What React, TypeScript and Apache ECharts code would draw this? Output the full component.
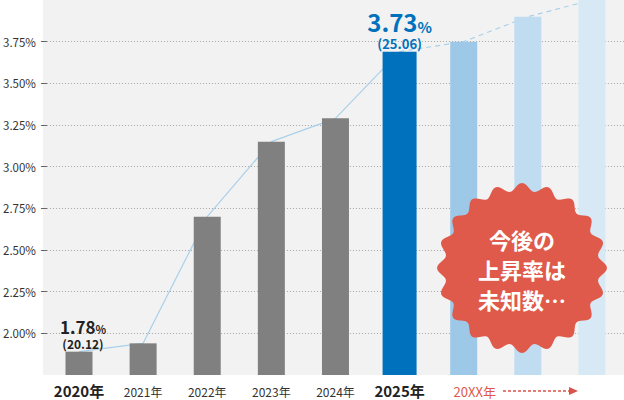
import { useEffect, useRef } from "react";
import * as echarts from "echarts";

// categories on the x axis (the last three are the unknown future years)
const categories = ["2020年", "2021年", "2022年", "2023年", "2024年", "2025年", "20XX年①", "20XX年②", "20XX年③"];
const xTickLabels = ["2020年", "2021年", "2022年", "2023年", "2024年", "2025年", "20XX年", "", ""];
const highlightYears = ["2020年", "2025年"];

// bar heights (y axis in %)
const pastValues = [1.89, 1.94, 2.7, 3.15, 3.29];
const currentValue = 3.69;
const futureValues = [3.75, 3.9, 4.0];

// annotated values
const labelRates = ["1.78", "3.73"];
const labelRatios = ["(20.12)", "(25.06)"];

const yTicks = [2.0, 2.25, 2.5, 2.75, 3.0, 3.25, 3.5, 3.75];
const badgeText = "今後の\n上昇率は\n未知数…";

const FONT = '"Noto Sans CJK JP", "Noto Sans", sans-serif';

function badgePoints(cx: number, cy: number, r: number, amp: number, bumps: number) {
  const pts: number[][] = [];
  const n = 240;
  for (let i = 0; i < n; i++) {
    const t = (i / n) * Math.PI * 2;
    const rr = r + amp * Math.cos(bumps * t);
    pts.push([cx + rr * Math.cos(t), cy + rr * Math.sin(t)]);
  }
  return pts;
}

export default function App() {
  const ref = useRef<HTMLDivElement | null>(null);

  useEffect(() => {
    if (!ref.current) return;
    const chart = echarts.init(ref.current, undefined, { renderer: "svg" });

    const pastCount = pastValues.length;
    const futureColors = ["#9dc8e8", "#bfdcf0", "#d8e9f6"];

    const barData: any[] = categories.map((_, i) => {
      if (i < pastCount) {
        const item: any = { value: pastValues[i], itemStyle: { color: "#808080" } };
        if (i === 0) {
          item.label = {
            show: true,
            position: "top",
            distance: 3,
            offset: [4, 0],
            formatter: `{v|${labelRates[0]}}{p|%}\n{s|${labelRatios[0]}}`,
            rich: {
              v: { fontSize: 17, fontWeight: "bold", color: "#222", fontFamily: FONT, lineHeight: 19, verticalAlign: "bottom" },
              p: { fontSize: 11, fontWeight: "bold", color: "#222", fontFamily: FONT, lineHeight: 19, verticalAlign: "bottom" },
              s: { fontSize: 12, fontWeight: "bold", color: "#222", fontFamily: FONT, lineHeight: 14, padding: [4, 0, 0, 0] }
            }
          };
        }
        return item;
      }
      if (i === pastCount) return "-";
      const k = i - pastCount - 1;
      return { value: futureValues[k], itemStyle: { color: futureColors[k] } };
    });

    const currentData: any[] = categories.map((_, i) =>
      i === pastCount
        ? {
            value: currentValue,
            label: {
              show: true,
              position: "top",
              distance: 3,
              formatter: `{v|${labelRates[1]}}{p|%}\n{s|${labelRatios[1]}}`,
              rich: {
                v: { fontSize: 24, fontWeight: "bold", color: "#0071bc", fontFamily: FONT, lineHeight: 26, verticalAlign: "bottom" },
                p: { fontSize: 15, fontWeight: "bold", color: "#0071bc", fontFamily: FONT, lineHeight: 26, verticalAlign: "bottom" },
                s: { fontSize: 13, fontWeight: "bold", color: "#0071bc", fontFamily: FONT, lineHeight: 15, padding: [4, 0, 0, 0] }
              }
            }
          }
        : "-"
    );

    const solidLine = categories.map((_, i) =>
      i < pastCount ? pastValues[i] : i === pastCount ? currentValue : "-"
    );
    const dashedLine = categories.map((_, i) =>
      i < pastCount ? "-" : i === pastCount ? currentValue : futureValues[i - pastCount - 1]
    );

    chart.setOption({
      animation: false,
      textStyle: { fontFamily: FONT },
      grid: { left: 43, right: 0, top: 0, bottom: 25 },
      xAxis: [
        {
          type: "category",
          data: categories,
          axisLine: { show: false },
          axisTick: { show: false },
          axisLabel: {
            margin: 8,
            interval: 0,
            formatter: (_: string, i: number) => {
              const t = xTickLabels[i];
              if (!t) return "";
              if (highlightYears.includes(t)) return `{big|${t}}`;
              if (t.startsWith("20XX")) return `{future|${t}}`;
              return `{small|${t}}`;
            },
            rich: {
              big: { fontSize: 15, fontWeight: "bold", color: "#222", fontFamily: FONT, lineHeight: 15, verticalAlign: "bottom" },
              small: { fontSize: 12, color: "#333", fontFamily: FONT, lineHeight: 15, verticalAlign: "bottom" },
              future: { fontSize: 13, color: "#e0574a", fontFamily: FONT, lineHeight: 15, verticalAlign: "bottom", padding: [0, 0, 0, 22] }
            }
          }
        },
        { type: "category", data: categories, show: false }
      ],
      yAxis: {
        type: "value",
        min: 1.75,
        max: 4.0,
        interval: 0.25,
        axisLine: { show: false },
        axisTick: { show: true, length: 6, lineStyle: { color: "#666" }, customValues: yTicks },
        axisLabel: {
          customValues: yTicks,
          margin: 11,
          fontSize: 11.5,
          color: "#333",
          formatter: (v: number) => `${v.toFixed(2)}%`
        },
        splitLine: { show: false }
      },
      graphic: [
        {
          type: "rect",
          z: -10,
          silent: true,
          shape: { x: 43, y: 0, width: 581, height: 375 },
          style: { fill: "#f2f2f2" }
        },
        {
          type: "line",
          silent: true,
          shape: { x1: 503, y1: 391, x2: 569, y2: 391 },
          style: { stroke: "#d9534a", lineWidth: 1.3, lineDash: [3, 2] }
        },
        {
          type: "polygon",
          silent: true,
          shape: { points: [[569, 387], [578, 391], [569, 395]] },
          style: { fill: "#d9534a" }
        },
        {
          type: "polygon",
          z: 100,
          silent: true,
          shape: { points: badgePoints(522, 268, 81, 4, 20) },
          style: { fill: "#e05a4b" }
        },
        {
          type: "text",
          z: 101,
          silent: true,
          x: 522,
          y: 269,
          style: {
            text: badgeText,
            fill: "#fff",
            font: `bold 22px ${FONT}`,
            align: "center",
            verticalAlign: "middle",
            lineHeight: 30
          }
        }
      ],
      series: [
        {
          type: "line",
          z: 1,
          data: solidLine,
          symbol: "none",
          lineStyle: { color: "#a9d0ea", width: 1.2 },
          markLine: {
            z: 1,
            silent: true,
            symbol: "none",
            label: { show: false },
            lineStyle: { color: "#a6a6a6", type: [1, 2], width: 1 },
            data: yTicks.map((v) => ({ yAxis: v }))
          }
        },
        {
          type: "line",
          z: 1,
          data: dashedLine,
          symbol: "none",
          lineStyle: { color: "#a9d0ea", width: 1.2, type: [5, 4] }
        },
        {
          type: "bar",
          z: 2,
          barWidth: 27,
          data: barData
        },
        {
          type: "bar",
          z: 2,
          xAxisIndex: 1,
          barWidth: 34,
          itemStyle: { color: "#0071bc" },
          data: currentData
        }
      ]
    });

    return () => {
      chart.dispose();
    };
  }, []);

  return <div ref={ref} style={{ position: "absolute", left: 0, top: 0, width: 624, height: 400 }} />;
}
